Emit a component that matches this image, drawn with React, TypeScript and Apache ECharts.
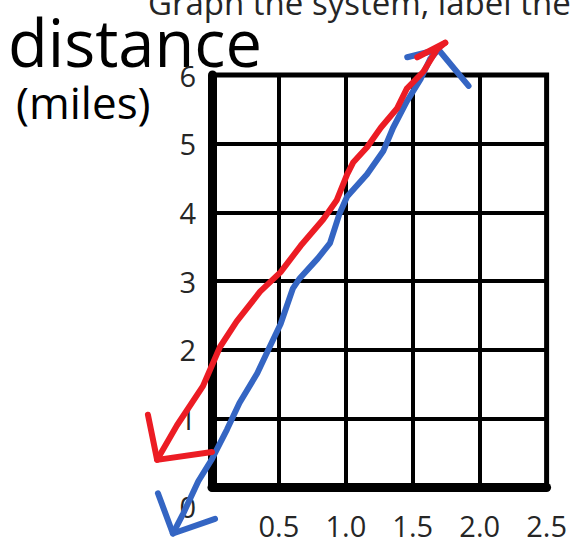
import React, { useEffect, useRef } from "react";
import * as echarts from "echarts";

// Axis ticks
const xTicks = [0, 0.5, 1, 1.5, 2, 2.5];
const yTicks = [0, 1, 2, 3, 4, 5, 6];

// Hand-drawn red line (time, distance) and its arrowheads
const redLine = [
  [-0.4, 0.28], [-0.255, 0.79], [-0.066, 1.37], [0.058, 1.95], [0.18, 2.33],
  [0.35, 2.77], [0.5, 3.06], [0.646, 3.45], [0.81, 3.84], [0.91, 4.13],
  [0.985, 4.51], [1.03, 4.69], [1.13, 4.91], [1.23, 5.2], [1.35, 5.49],
  [1.42, 5.78], [1.54, 6.03], [1.64, 6.36], [1.7, 6.46],
];
const redTopHead = [[1.496, 6.245], [1.7, 6.46]];
const redBottomHead = [[-0.467, 0.946], [-0.4, 0.277], [0.0, 0.393]];

// Hand-drawn blue line and its arrowheads
const blueLine = [
  [-0.285, -0.815], [-0.21, -0.52], [-0.1, -0.04], [0.0, 0.29], [0.11, 0.73],
  [0.2, 1.12], [0.33, 1.56], [0.42, 1.95], [0.5, 2.29], [0.59, 2.82],
  [0.64, 2.97], [0.77, 3.26], [0.86, 3.49], [0.93, 3.93], [0.985, 4.18],
  [1.13, 4.51], [1.25, 4.86], [1.32, 5.2], [1.42, 5.59], [1.52, 5.92],
  [1.59, 6.22], [1.65, 6.36],
];
const blueTopHead = [[1.423, 6.245], [1.65, 6.36], [1.87, 5.82]];
const blueBottomHead = [[-0.394, -0.218], [-0.285, -0.815], [0.022, -0.597]];

const RED = "#ec1c24";
const BLUE = "#3465c3";
const LABEL_FONT = "Open Sans";

// Plot area geometry (visible grid spans x 0..2.5, y 0..6)
const GL = 212;
const GT = 75;
const GW = 343;
const GH = 412;
const PX_X = GW / 2.5;
const PX_Y = GH / 6;

function stroke(data: number[][], color: string, z: number) {
  return {
    type: "line",
    xAxisIndex: 1,
    yAxisIndex: 1,
    data,
    symbol: "none",
    clip: false,
    silent: true,
    z,
    lineStyle: { color, width: 6, cap: "round", join: "round" },
  };
}

export default function App() {
  const ref = useRef<HTMLDivElement>(null);

  useEffect(() => {
    if (!ref.current) return;
    const chart = echarts.init(ref.current, null, { renderer: "svg" });
    chart.setOption({
      animation: false,
      backgroundColor: "#ffffff",
      grid: [
        {
          left: GL,
          top: GT,
          width: GW,
          height: GH,
          show: true,
          borderColor: "#000",
          borderWidth: 5,
          backgroundColor: "transparent",
        },
        // Same scale, widened so the pen strokes can run past the frame
        {
          left: GL - 0.5 * PX_X,
          top: GT - PX_Y,
          width: GW + 0.5 * PX_X,
          height: GH + 2 * PX_Y,
          show: false,
        },
      ],
      xAxis: [
        {
          type: "value",
          gridIndex: 0,
          min: xTicks[0],
          max: xTicks[xTicks.length - 1],
          interval: 0.5,
          axisLine: { show: true, onZero: false, lineStyle: { color: "#000", width: 9 } },
          axisTick: { show: false },
          splitLine: { show: true, lineStyle: { color: "#000", width: 4 } },
          axisLabel: {
            margin: 24,
            fontSize: 29,
            fontFamily: LABEL_FONT,
            color: "#262626",
            formatter: (v: number) => (v === 0 ? "" : v.toFixed(1)),
          },
        },
        {
          type: "value",
          gridIndex: 1,
          min: -0.5,
          max: 2.5,
          interval: 0.5,
          show: false,
        },
      ],
      yAxis: [
        {
          type: "value",
          gridIndex: 0,
          min: yTicks[0],
          max: yTicks[yTicks.length - 1],
          interval: 1,
          axisLine: { show: true, onZero: false, lineStyle: { color: "#000", width: 9 } },
          axisTick: { show: false },
          splitLine: { show: true, lineStyle: { color: "#000", width: 4 } },
          axisLabel: {
            margin: 16,
            fontSize: 29,
            fontFamily: LABEL_FONT,
            color: "#262626",
            formatter: (v: number) => (v === 0 ? "{z|0}" : String(v)),
            rich: {
              z: {
                fontSize: 29,
                fontFamily: LABEL_FONT,
                color: "#262626",
                padding: [38, 0, 0, 0],
              },
            },
          },
        },
        {
          type: "value",
          gridIndex: 1,
          min: -1,
          max: 7,
          interval: 1,
          show: false,
        },
      ],
      graphic: [
        {
          type: "text",
          left: 148,
          top: -14,
          style: {
            text: "Graph the system, label the",
            font: `33px "${LABEL_FONT}"`,
            fill: "#262626",
          },
        },
        {
          type: "text",
          left: 8,
          top: 9,
          style: {
            text: "distance",
            font: `65px "${LABEL_FONT}"`,
            fill: "#000",
          },
        },
        {
          type: "text",
          left: 16,
          top: 80,
          style: {
            text: "(miles)",
            font: `44px "${LABEL_FONT}"`,
            fill: "#000",
          },
        },
      ],
      series: [
        stroke(blueLine, BLUE, 2),
        stroke(blueTopHead, BLUE, 2),
        stroke(blueBottomHead, BLUE, 2),
        stroke(redLine, RED, 3),
        stroke(redTopHead, RED, 3),
        stroke(redBottomHead, RED, 3),
      ],
    });
    return () => chart.dispose();
  }, []);

  return (
    <div
      ref={ref}
      style={{ position: "fixed", left: 0, top: 0, width: 570, height: 546, background: "#fff" }}
    />
  );
}
